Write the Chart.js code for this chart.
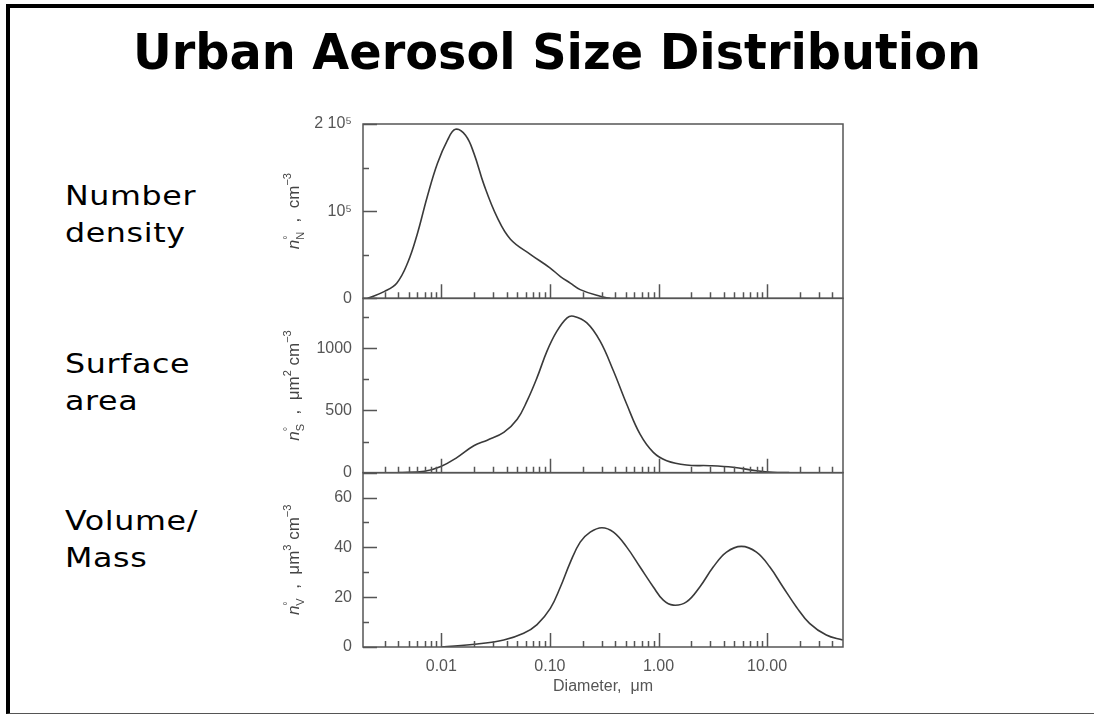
<!DOCTYPE html>
<html>
<head>
<meta charset="utf-8">
<script src="https://cdn.jsdelivr.net/npm/chart.js@4.4.1/dist/chart.umd.min.js"></script>
<style>
  html, body { margin: 0; padding: 0; background: #fff; }
  body { width: 1094px; height: 715px; position: relative; overflow: hidden; }
  #frame { position: absolute; left: 6px; top: 4px; width: 1088px; height: 710px;
           border-left: 4px solid #000; border-top: 4px solid #000; border-bottom: 1px solid #555;
           box-sizing: border-box; }
  #title { position: absolute; top: 23px; left: 133px; white-space: nowrap;
           font-family: 'DejaVu Sans'; font-weight: bold; font-size: 49px; line-height: 60px;
           transform-origin: left top; }
  .side { position: absolute; left: 65px; white-space: nowrap; font-family: 'DejaVu Sans';
          font-size: 26px; line-height: 37px; letter-spacing: 0.5px;
          transform: scaleX(1.22); transform-origin: left top; }
  #chartBox { position: absolute; left: 0; top: 0; width: 1094px; height: 715px; }
</style>
</head>
<body>
<div id="frame"></div>
<div id="title">Urban Aerosol Size Distribution</div>
<div class="side" style="top:178px">Number<br>density</div>
<div class="side" style="top:346px">Surface<br>area</div>
<div class="side" style="top:503px">Volume/<br>Mass</div>
<div id="chartBox"><canvas id="aerosolChart"></canvas></div>
<script>
// Diameters (um) and distribution values
const numDiam = [0.0021, 0.003, 0.0039, 0.0049, 0.006, 0.0074, 0.0092, 0.0114, 0.0135, 0.0167, 0.020,
                 0.0246, 0.0327, 0.0433, 0.066, 0.10, 0.125, 0.154, 0.19, 0.29, 0.36];
const numVals = [0, 8000, 17700, 40800, 73600, 116000, 154600, 181500, 193900, 187000, 166000,
                 131000, 92800, 67800, 50500, 35000, 25000, 17500, 10000, 2300, 0];

const surfDiam = [0.004, 0.007, 0.0099, 0.014, 0.0199, 0.0265, 0.0376, 0.05, 0.0616, 0.0761, 0.094,
                  0.116, 0.144, 0.165, 0.219, 0.29, 0.385, 0.51, 0.676, 0.896, 1.19, 1.81, 2.97,
                  4.86, 7.98, 11.3, 16];
const surfVals = [0, 12, 50, 123, 216, 261, 323, 429, 576, 763, 976,
                  1136, 1243, 1256, 1203, 1056, 816, 549, 309, 163, 96, 61, 56,
                  43, 16, 3, 0];

const volDiam = [0.01, 0.0214, 0.0376, 0.0573, 0.0761, 0.1009, 0.1246, 0.154, 0.19, 0.235, 0.301,
                 0.385, 0.51, 0.676, 0.896, 1.107, 1.368, 1.81, 2.40, 3.19, 4.23, 5.80, 7.98,
                 10.6, 14.0, 18.6, 24.6, 35.1, 49.8];
const volVals = [0, 1.2, 2.8, 5.5, 9.0, 15.5, 24, 34, 42.1, 46.1, 47.9,
                 46.1, 40.1, 32.1, 24.1, 18.8, 16.8, 18.1, 24.1, 32.1, 38.1, 40.4, 38.1,
                 32.1, 24.1, 16.1, 9.5, 4.8, 2.8];

// Axis ticks and labels
const xTicks = [0.01, 0.1, 1, 10];
const xTickLabels = ['0.01', '0.10', '1.00', '10.00'];
const numTicks = [0, 50000, 100000, 150000, 200000];
const numTickLabels = ['0', '', '10\u2075', '', '2 10\u2075'];
const surfTicks = [0, 250, 500, 750, 1000, 1250];
const surfTickLabels = ['0', '', '500', '', '1000', ''];
const volTicks = [0, 10, 20, 30, 40, 50, 60];
const volTickLabels = ['0', '', '20', '', '40', '', '60'];

// y titles: [text, kind]  i = italic, m = normal, u = superscript, d = subscript, o = no advance
const numTitle = [['n', 'i'], ['\u00b0', 'uo'], ['N', 'd'], ['  ,  cm', 'm'], ['\u22123', 'u']];
const surfTitle = [['n', 'i'], ['\u00b0', 'uo'], ['S', 'd'], ['  ,  \u03bcm', 'm'], ['2', 'u'], [' cm', 'm'], ['\u22123', 'u']];
const volTitle = [['n', 'i'], ['\u00b0', 'uo'], ['V', 'd'], ['  ,  \u03bcm', 'm'], ['3', 'u'], [' cm', 'm'], ['\u22123', 'u']];

const panels = [
    { id: 'yN', ticks: numTicks, labels: numTickLabels, title: numTitle },
    { id: 'yS', ticks: surfTicks, labels: surfTickLabels, title: surfTitle },
    { id: 'yV', ticks: volTicks, labels: volTickLabels, title: volTitle }
];

const axisGrey = '#555';
const fontFam = "'Liberation Sans', Arial, sans-serif";

// fit the title to the width it has on the slide
const titleEl = document.getElementById('title');
titleEl.style.transform = 'scaleX(' + (848 / titleEl.getBoundingClientRect().width) + ')';

function toPoints(xs, ys) {
    return xs.map((x, i) => ({ x: x, y: ys[i] }));
}

// draw a rotated axis title with sub/superscripts
function drawRotTitle(ctx, parts, cx, cy, size) {
    const small = size * 0.65;
    const items = parts.map(p => {
        const kind = p[1];
        let font;
        if (kind.indexOf('u') >= 0 || kind.indexOf('d') >= 0) font = small + 'px ' + fontFam;
        else if (kind === 'i') font = 'italic ' + size + 'px ' + fontFam;
        else font = size + 'px ' + fontFam;
        ctx.font = font;
        return { text: p[0], kind: kind, font: font, w: ctx.measureText(p[0]).width };
    });
    let total = 0;
    items.forEach(it => { if (it.kind.indexOf('o') < 0) total += it.w; });
    ctx.save();
    ctx.translate(cx, cy);
    ctx.rotate(-Math.PI / 2);
    ctx.fillStyle = '#444';
    ctx.textBaseline = 'alphabetic';
    let x = -total / 2;
    items.forEach(it => {
        let dy = 0;
        if (it.kind.indexOf('u') >= 0) dy = -size * 0.45;
        if (it.kind.indexOf('d') >= 0) dy = size * 0.28;
        ctx.font = it.font;
        ctx.fillText(it.text, x, dy);
        if (it.kind.indexOf('o') < 0) x += it.w;
    });
    ctx.restore();
}

// frames, inward tick marks and y titles for every panel
const panelPlugin = {
    id: 'panelPlugin',
    afterDraw(chart) {
        const ctx = chart.ctx;
        const xs = chart.scales.x;
        const area = chart.chartArea;
        ctx.save();
        ctx.strokeStyle = axisGrey;
        ctx.lineWidth = 1.5;
        panels.forEach(p => {
            const ys = chart.scales[p.id];
            ctx.strokeRect(area.left, ys.top, area.right - area.left, ys.bottom - ys.top);
            ctx.beginPath();
            for (let e = -3; e <= 1; e++) {
                for (let m = 1; m <= 9; m++) {
                    const v = m * Math.pow(10, e);
                    if (v < 0.0025 || v > 45) continue;
                    const px = Math.round(xs.getPixelForValue(v)) + 0.5;
                    const len = m === 1 ? 14 : 6;
                    ctx.moveTo(px, ys.bottom);
                    ctx.lineTo(px, ys.bottom - len);
                }
            }
            p.ticks.forEach((v, i) => {
                const py = Math.round(ys.getPixelForValue(v)) + 0.5;
                const len = p.labels[i] ? 14 : 6;
                ctx.moveTo(area.left, py);
                ctx.lineTo(area.left + len, py);
            });
            ctx.stroke();
            drawRotTitle(ctx, p.title, 299, (ys.top + ys.bottom) / 2, 17);
        });
        ctx.restore();
    }
};

const lineStyle = {
    borderColor: '#3a3a3a',
    borderWidth: 1.6,
    pointRadius: 0,
    fill: false,
    tension: 0.4
};

function yAxis(p, max) {
    return {
        type: 'linear',
        position: 'left',
        stack: 'panels',
        stackWeight: 1,
        min: 0,
        max: max,
        grid: { display: false, drawTicks: false },
        border: { display: false },
        afterBuildTicks: s => { s.ticks = p.ticks.map(v => ({ value: v })); },
        afterFit: s => { s.width = 93; },
        ticks: {
            autoSkip: false,
            padding: 11,
            color: axisGrey,
            font: { family: fontFam, size: 16 },
            callback: (v, i) => p.labels[i]
        }
    };
}

new Chart(document.getElementById('aerosolChart'), {
    type: 'line',
    data: {
        datasets: [
            Object.assign({ label: 'Number', data: toPoints(numDiam, numVals), yAxisID: 'yN' }, lineStyle),
            Object.assign({ label: 'Surface', data: toPoints(surfDiam, surfVals), yAxisID: 'yS' }, lineStyle),
            Object.assign({ label: 'Volume', data: toPoints(volDiam, volVals), yAxisID: 'yV' }, lineStyle)
        ]
    },
    options: {
        responsive: true,
        maintainAspectRatio: false,
        animation: false,
        layout: { padding: { left: 270, top: 124, right: 251, bottom: 8 } },
        plugins: {
            legend: { display: false },
            tooltip: { enabled: false }
        },
        scales: {
            x: {
                type: 'logarithmic',
                min: 0.0019,
                max: 50,
                grid: { display: false, drawTicks: false },
                border: { display: false },
                afterBuildTicks: s => { s.ticks = xTicks.map(v => ({ value: v })); },
                afterFit: s => { s.height = 60; },
                ticks: {
                    autoSkip: false,
                    maxRotation: 0,
                    padding: 10,
                    color: axisGrey,
                    font: { family: fontFam, size: 16 },
                    callback: (v, i) => xTickLabels[i]
                },
                title: {
                    display: true,
                    text: 'Diameter,  \u03bcm',
                    color: axisGrey,
                    font: { family: fontFam, size: 16 },
                    padding: { top: 0, bottom: 11 }
                }
            },
            // stacked panels are laid out bottom-up from the last defined axis
            yV: yAxis(panels[2], 70),
            yS: yAxis(panels[1], 1400),
            yN: yAxis(panels[0], 200000)
        }
    },
    plugins: [panelPlugin]
});
</script>
</body>
</html>
